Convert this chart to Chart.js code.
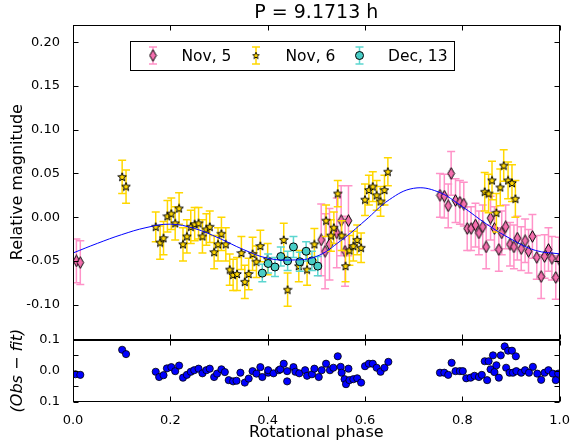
<!DOCTYPE html>
<html>
<head>
<meta charset="utf-8">
<script src="https://cdn.jsdelivr.net/npm/chart.js@4.4.0/dist/chart.umd.min.js"></script>
<style>
  body { margin: 0; background: #fff; }
</style>
</head>
<body>
<canvas id="lc" width="573" height="446"></canvas>
<script>
// INPUT DATA (rotational phase, relative magnitude, error)

const nov5Phase = [0.007, 0.015, 0.510, 0.518, 0.527, 0.542, 0.551, 0.559, 0.566,
  0.754, 0.763, 0.771, 0.777, 0.786, 0.795, 0.803, 0.810, 0.818, 0.827, 0.834,
  0.842, 0.849, 0.858, 0.866, 0.875, 0.881, 0.889, 0.898, 0.906, 0.913, 0.921,
  0.929, 0.936, 0.944, 0.953, 0.962, 0.969, 0.977, 0.984, 0.992, 0.999];
const nov5Mag = [-0.050, -0.052, -0.026, -0.039, -0.031, -0.018, -0.004, -0.039, -0.004,
  0.025, 0.024, 0.013, 0.050, 0.019, 0.017, 0.015, -0.013, -0.013, -0.009, -0.018,
  -0.011, -0.034, -0.001, -0.013, -0.037, -0.018, -0.011, -0.031, -0.034, -0.024, -0.036,
  -0.027, -0.039, -0.022, -0.046, -0.068, -0.045, -0.037, -0.047, -0.069, -0.048];
const nov5Err = [0.025, 0.025, 0.041, 0.043, 0.041, 0.040, 0.040, 0.040, 0.040,
  0.025, 0.025, 0.025, 0.025, 0.025, 0.025, 0.025, 0.025, 0.025, 0.025, 0.025,
  0.025, 0.025, 0.025, 0.025, 0.025, 0.025, 0.025, 0.025, 0.025, 0.025, 0.025,
  0.025, 0.025, 0.025, 0.025, 0.025, 0.025, 0.025, 0.025, 0.025, 0.025];

const nov6Phase = [0.101, 0.109, 0.170, 0.179, 0.186, 0.194, 0.202, 0.210, 0.218, 0.226,
  0.234, 0.242, 0.250, 0.258, 0.266, 0.274, 0.281, 0.290, 0.298, 0.305, 0.314, 0.322,
  0.329, 0.337, 0.346, 0.353, 0.361, 0.369, 0.377, 0.385, 0.400, 0.433, 0.441, 0.464,
  0.481, 0.496, 0.520, 0.530, 0.536, 0.544, 0.552, 0.560, 0.568, 0.576, 0.584, 0.592,
  0.600, 0.608, 0.616, 0.624, 0.632, 0.640, 0.647, 0.846, 0.854, 0.861, 0.870, 0.878,
  0.885, 0.894, 0.902, 0.909];
const nov6Mag = [0.046, 0.035, -0.011, -0.029, -0.024, 0.001, 0.004, -0.007, 0.010, -0.031,
  -0.022, -0.011, -0.008, -0.007, -0.022, -0.014, -0.011, -0.040, -0.031, -0.019, -0.031, -0.060,
  -0.066, -0.065, -0.041, -0.074, -0.065, -0.042, -0.051, -0.033, -0.048, -0.026, -0.083, -0.056,
  -0.060, -0.031, -0.004, -0.021, -0.012, 0.027, -0.021, -0.056, -0.038, -0.033, -0.026, -0.035,
  0.020, 0.031, 0.035, 0.025, 0.018, 0.031, 0.052, 0.029, 0.027, 0.042, 0.005, 0.034,
  0.059, 0.042, 0.039, 0.021];
const nov6Err = [0.019, 0.019, 0.017, 0.019, 0.019, 0.018, 0.018, 0.019, 0.018, 0.019,
  0.019, 0.019, 0.019, 0.018, 0.019, 0.018, 0.018, 0.019, 0.019, 0.019, 0.019, 0.018,
  0.018, 0.019, 0.019, 0.019, 0.018, 0.019, 0.018, 0.018, 0.018, 0.019, 0.019, 0.018,
  0.018, 0.018, 0.018, 0.018, 0.018, 0.015, 0.017, 0.018, 0.017, 0.017, 0.017, 0.017,
  0.018, 0.017, 0.017, 0.017, 0.017, 0.017, 0.016, 0.022, 0.022, 0.022, 0.022, 0.021,
  0.018, 0.021, 0.021, 0.021];

const dec13Phase = [0.389, 0.401, 0.415, 0.427, 0.441, 0.453, 0.466, 0.479, 0.491, 0.503];
const dec13Mag = [-0.064, -0.053, -0.057, -0.045, -0.050, -0.034, -0.051, -0.039, -0.050, -0.056];
const dec13Err = [0.010, 0.011, 0.011, 0.011, 0.011, 0.012, 0.011, 0.011, 0.011, 0.011];

// fitted light curve
const fitPhase = [0.00, 0.05, 0.10, 0.15, 0.20, 0.25, 0.30, 0.35, 0.40, 0.45, 0.50,
  0.55, 0.60, 0.65, 0.70, 0.75, 0.80, 0.85, 0.90, 0.95, 1.00];
const fitMag = [-0.041, -0.030, -0.020, -0.012, -0.008, -0.013, -0.024, -0.037, -0.047, -0.049, -0.045,
  -0.027, -0.004, 0.020, 0.033, 0.029, 0.012, -0.008, -0.025, -0.038, -0.042];

// residuals panel (Obs - fit)
const resPhase = [0.005, 0.015, 0.101, 0.109, 0.170, 0.177, 0.186, 0.193, 0.202, 0.210,
  0.218, 0.226, 0.234, 0.242, 0.249, 0.258, 0.266, 0.274, 0.281, 0.290, 0.296, 0.305,
  0.312, 0.320, 0.329, 0.336, 0.344, 0.353, 0.361, 0.369, 0.377, 0.385, 0.389, 0.401,
  0.401, 0.412, 0.423, 0.426, 0.433, 0.440, 0.440, 0.453, 0.457, 0.465, 0.477, 0.481,
  0.491, 0.496, 0.505, 0.511, 0.520, 0.528, 0.535, 0.544, 0.550, 0.552, 0.558, 0.561,
  0.566, 0.568, 0.576, 0.584, 0.592, 0.600, 0.608, 0.616, 0.624, 0.632, 0.640, 0.648,
  0.754, 0.763, 0.771, 0.778, 0.786, 0.795, 0.801, 0.808, 0.817, 0.825, 0.834, 0.840,
  0.846, 0.851, 0.854, 0.858, 0.863, 0.866, 0.870, 0.875, 0.879, 0.887, 0.890, 0.894,
  0.897, 0.902, 0.904, 0.910, 0.911, 0.921, 0.929, 0.937, 0.945, 0.954, 0.962, 0.969,
  0.977, 0.986, 0.992, 0.997];
const resVal = [-0.012, -0.014, 0.067, 0.053, -0.004, -0.021, -0.015, 0.007, 0.011, -0.002,
  0.016, -0.023, -0.014, -0.004, 0.001, 0.006, -0.009, 0.001, 0.006, -0.021, -0.010, 0.004,
  -0.005, -0.031, -0.035, -0.033, -0.007, -0.039, -0.026, -0.002, -0.010, 0.011, -0.021, -0.007,
  0.001, -0.009, 0.001, 0.004, 0.022, -0.035, -0.002, 0.011, -0.004, -0.009, 0.001, -0.017,
  -0.012, 0.006, -0.021, 0.001, 0.022, 0.001, 0.009, 0.046, 0.012, -0.007, -0.028, -0.044,
  0.006, -0.031, -0.028, -0.025, -0.039, 0.014, 0.022, 0.022, 0.009, -0.004, 0.009, 0.028,
  -0.007, -0.007, -0.014, 0.025, -0.002, -0.002, -0.002, -0.025, -0.023, -0.017, -0.021, -0.014,
  0.030, -0.031, 0.030, 0.004, 0.049, -0.005, 0.017, -0.023, 0.049, 0.078, 0.009, 0.064,
  -0.007, 0.064, -0.007, 0.046, -0.002, -0.007, 0.001, -0.007, 0.012, -0.010, -0.030, -0.007,
  0.001, -0.010, -0.031, -0.010];

const xTicks = [0, 0.2, 0.4, 0.6, 0.8, 1.0];
const magTicks = [-0.10, -0.05, 0.00, 0.05, 0.10, 0.15, 0.20];
const resTicks = [-0.10, -0.05, 0.00, 0.05, 0.10];

// MARKERS

const PINK = "#f46fae", PINK_ERR = "#ff92c8";
const GOLD = "#ffd700", GOLD_ERR = "#ffd700";
const TEAL = "#48cdc6", TEAL_ERR = "#5cd6d0";

function makeMarker(w, h, draw) {
  const c = document.createElement("canvas");
  c.width = w;
  c.height = h;
  draw(c.getContext("2d"), w, h);
  return c;
}

const diamondImg = makeMarker(9, 13, function (g, w, h) {
  g.beginPath();
  g.moveTo(w / 2, 0.7);
  g.lineTo(w - 1.2, h / 2);
  g.lineTo(w / 2, h - 0.7);
  g.lineTo(1.2, h / 2);
  g.closePath();
  g.fillStyle = PINK;
  g.fill();
  g.strokeStyle = "#000";
  g.lineWidth = 1;
  g.stroke();
});

function starPath(g, cx, cy, ro, ri) {
  g.beginPath();
  for (let k = 0; k < 10; k++) {
    const r = k % 2 === 0 ? ro : ri;
    const a = -Math.PI / 2 + (k * Math.PI) / 5;
    const px = cx + r * Math.cos(a), py = cy + r * Math.sin(a);
    if (k === 0) g.moveTo(px, py);
    else g.lineTo(px, py);
  }
  g.closePath();
}

const starImg = makeMarker(10, 10, function (g, w, h) {
  starPath(g, 5, 5.3, 4.5, 1.9);
  g.fillStyle = GOLD;
  g.fill();
  g.strokeStyle = "#000";
  g.lineWidth = 1;
  g.stroke();
});

function pts(xs, ys) {
  return xs.map(function (x, i) {
    return { x: x, y: ys[i] };
  });
}

// PLUGIN: error bars, frames, inward ticks, legend

const panelPlugin = {
  id: "panels",
  beforeDatasetDraw(chart, args) {
    const ds = chart.data.datasets[args.index];
    if (!ds.errors) return;
    const ctx = chart.ctx, xs = chart.scales.x, ys = chart.scales[ds.yAxisID];
    ctx.save();
    ctx.beginPath();
    ctx.rect(xs.left, ys.top, xs.right - xs.left, ys.bottom - ys.top);
    ctx.clip();
    ctx.strokeStyle = ds.errColor;
    ctx.lineWidth = 1.5;
    ds.data.forEach(function (p, i) {
      const x = xs.getPixelForValue(p.x);
      const y0 = ys.getPixelForValue(p.y - ds.errors[i]);
      const y1 = ys.getPixelForValue(p.y + ds.errors[i]);
      ctx.beginPath();
      ctx.moveTo(x, y0);
      ctx.lineTo(x, y1);
      ctx.moveTo(x - 4, y0);
      ctx.lineTo(x + 4, y0);
      ctx.moveTo(x - 4, y1);
      ctx.lineTo(x + 4, y1);
      ctx.stroke();
    });
    ctx.restore();
  },
  afterDraw(chart) {
    const ctx = chart.ctx, xs = chart.scales.x;
    const L = Math.round(xs.left) + 0.5, R = Math.round(xs.right) - 0.5;
    ctx.save();
    ctx.strokeStyle = "#000";
    ctx.lineWidth = 1;
    [["y", magTicks], ["y2", resTicks]].forEach(function (pair) {
      const ys = chart.scales[pair[0]];
      const T = Math.round(ys.top) + 0.5, B = Math.round(ys.bottom) - 0.5;
      ctx.strokeRect(L, T, R - L, B - T);
      ctx.beginPath();
      xTicks.forEach(function (v) {
        const x = Math.round(xs.getPixelForValue(v)) + 0.5;
        ctx.moveTo(x, T);
        ctx.lineTo(x, T + 5);
        ctx.moveTo(x, B);
        ctx.lineTo(x, B - 5);
      });
      pair[1].forEach(function (v) {
        const y = Math.round(ys.getPixelForValue(v)) + 0.5;
        ctx.moveTo(L, y);
        ctx.lineTo(L + 5, y);
        ctx.moveTo(R, y);
        ctx.lineTo(R - 5, y);
      });
      ctx.stroke();
    });

    // legend
    const a = chart.scales.y;
    const bx = Math.round(xs.left) + 57.5, by = Math.round(a.top) + 16.5, bw = 324, bh = 29;
    ctx.fillStyle = "#fff";
    ctx.fillRect(bx, by, bw, bh);
    ctx.strokeRect(bx, by, bw, bh);
    const cy = by + 14;
    const items = [
      { label: "Nov, 5", err: PINK_ERR, ix: 22.5, tx: 51 },
      { label: "Nov, 6", err: GOLD_ERR, ix: 125.5, tx: 155 },
      { label: "Dec, 13", err: TEAL_ERR, ix: 229, tx: 257.5 },
    ];
    ctx.font = "15.5px 'DejaVu Sans'";
    ctx.textBaseline = "middle";
    items.forEach(function (it, k) {
      const x = bx + it.ix;
      ctx.strokeStyle = it.err;
      ctx.lineWidth = 1.5;
      ctx.beginPath();
      ctx.moveTo(x, cy - 8.5);
      ctx.lineTo(x, cy + 8.5);
      ctx.moveTo(x - 4, cy - 8.5);
      ctx.lineTo(x + 4, cy - 8.5);
      ctx.moveTo(x - 4, cy + 8.5);
      ctx.lineTo(x + 4, cy + 8.5);
      ctx.stroke();
      if (k === 0) {
        ctx.drawImage(diamondImg, x - 4.5, cy - 6.5);
      } else if (k === 1) {
        ctx.drawImage(starImg, x - 4, cy - 4, 8, 8);
      } else {
        ctx.beginPath();
        ctx.arc(x, cy, 4, 0, Math.PI * 2);
        ctx.fillStyle = TEAL;
        ctx.fill();
        ctx.strokeStyle = "#000";
        ctx.lineWidth = 1;
        ctx.stroke();
      }
      ctx.fillStyle = "#000";
      ctx.fillText(it.label, bx + it.tx, cy + 1);
    });
    ctx.restore();
  },
};

// PLOTTING

Chart.defaults.font.family = "'DejaVu Sans', sans-serif";
Chart.defaults.color = "#000";

const lcData = {
  datasets: [
    {
      label: "Dec, 13",
      data: pts(dec13Phase, dec13Mag),
      errors: dec13Err,
      errColor: TEAL_ERR,
      yAxisID: "y",
      pointStyle: "circle",
      pointRadius: 4,
      backgroundColor: TEAL,
      borderColor: "#000",
      borderWidth: 1,
      order: 1,
    },
    {
      label: "Nov, 6",
      data: pts(nov6Phase, nov6Mag),
      errors: nov6Err,
      errColor: GOLD_ERR,
      yAxisID: "y",
      pointStyle: starImg,
      order: 2,
    },
    {
      label: "Nov, 5",
      data: pts(nov5Phase, nov5Mag),
      errors: nov5Err,
      errColor: PINK_ERR,
      yAxisID: "y",
      pointStyle: diamondImg,
      order: 3,
    },
    {
      type: "line",
      label: "fit",
      data: pts(fitPhase, fitMag),
      yAxisID: "y",
      borderColor: "#0000ff",
      borderWidth: 1,
      pointRadius: 0,
      tension: 0.4,
      fill: false,
      order: 0,
    },
    {
      label: "residuals",
      data: pts(resPhase, resVal),
      yAxisID: "y2",
      pointStyle: "circle",
      pointRadius: 3.6,
      backgroundColor: "#0000ff",
      borderColor: "#000",
      borderWidth: 0.8,
      order: 4,
    },
  ],
};

new Chart(document.getElementById("lc").getContext("2d"), {
  type: "scatter",
  data: lcData,
  plugins: [panelPlugin],
  options: {
    responsive: false,
    animation: false,
    devicePixelRatio: 1,
    layout: { padding: { top: 0, right: 10, bottom: 0, left: 0 } },
    plugins: {
      legend: { display: false },
      tooltip: { enabled: false },
      title: {
        display: true,
        text: "P = 9.1713 h",
        fullSize: false,
        color: "#000",
        font: { size: 19, weight: "normal" },
        padding: { top: 2, bottom: 0 },
      },
    },
    scales: {
      x: {
        type: "linear",
        min: 0,
        max: 1,
        grid: { display: false },
        border: { display: false },
        ticks: {
          stepSize: 0.2,
          padding: 3,
          font: { size: 13 },
          callback: function (v) {
            return v.toFixed(1);
          },
        },
        title: {
          display: true,
          text: "Rotational phase",
          font: { size: 16 },
          padding: { top: 0, bottom: 4 },
        },
        afterFit: function (s) {
          s.height = 44.5;
        },
      },
      // bottom panel axis listed first so the stack places it below
      y2: {
        type: "linear",
        position: "left",
        stack: "lc",
        stackWeight: 61.9,
        min: -0.1,
        max: 0.1,
        grid: { display: false },
        border: { display: false },
        ticks: {
          stepSize: 0.05,
          autoSkip: false,
          padding: 5,
          font: { size: 13 },
          callback: function (v) {
            const r = Math.round(v * 100) / 100;
            if (Math.abs(r) === 0.05) return "";
            return Math.abs(r).toFixed(1);
          },
        },
        title: {
          display: true,
          text: "(Obs − fit)",
          font: { size: 16, style: "italic" },
          padding: { top: 8, bottom: 0 },
        },
        afterFit: function (s) {
          s.width = 73;
        },
      },
      y: {
        type: "linear",
        position: "left",
        stack: "lc",
        stackWeight: 314.6,
        min: -0.14,
        max: 0.22,
        grid: { display: false },
        border: { display: false },
        ticks: {
          stepSize: 0.05,
          includeBounds: false,
          padding: 5,
          font: { size: 13 },
          callback: function (v) {
            return (Math.round(v * 100) / 100).toFixed(2);
          },
        },
        title: {
          display: true,
          text: "Relative magnitude",
          font: { size: 16 },
          padding: { top: 8, bottom: 0 },
        },
        afterFit: function (s) {
          s.width = 73;
        },
      },
    },
  },
});
</script>
</body>
</html>
